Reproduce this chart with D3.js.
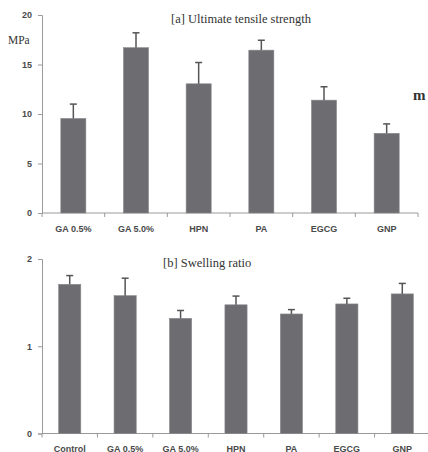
<!DOCTYPE html>
<html>
<head>
<meta charset="utf-8">
<script src="https://cdn.jsdelivr.net/npm/d3@7"></script>
<style>
  html, body { margin: 0; padding: 0; background: #fff; }
  svg { display: block; }
</style>
</head>
<body>
<svg id="chart" width="428" height="452"></svg>
<script>
// Panel (a): ultimate tensile strength, MPa
const tensileCategories = ["GA 0.5%", "GA 5.0%", "HPN", "PA", "EGCG", "GNP"];
const tensileMeans = [9.55, 16.7, 13.05, 16.45, 11.4, 8.05];
const tensileErrors = [1.45, 1.5, 2.15, 1.0, 1.35, 0.95];
const tensileTicks = [0, 5, 10, 15, 20];

// Panel (b): swelling ratio
const swellCategories = ["Control", "GA 0.5%", "GA 5.0%", "HPN", "PA", "EGCG", "GNP"];
const swellMeans = [1.71, 1.58, 1.32, 1.475, 1.37, 1.485, 1.6];
const swellErrors = [0.1, 0.2, 0.09, 0.1, 0.05, 0.065, 0.12];
const swellTicks = [0, 1, 2];

const svg = d3.select("#chart");
const barColor = "#6d6d71";
const axisColor = "#9a9a9a";
const labelColor = "#4a4a4a";
const serif = "'Liberation Serif', 'DejaVu Serif', serif";
const sans = "'Liberation Sans', 'DejaVu Sans', sans-serif";

function panel(cfg) {
  const g = svg.append("g");
  const x = d3.scaleBand().domain(cfg.categories).range([cfg.left, cfg.right]).paddingInner(cfg.pad).paddingOuter(cfg.pad / 2);
  const y = d3.scaleLinear().domain(cfg.domain).range([cfg.bottom, cfg.top]);
  const step = x.step();

  // y axis
  const yAxis = g.append("g").attr("transform", `translate(${cfg.left},0)`)
    .call(d3.axisLeft(y).tickValues(cfg.ticks).tickSize(4).tickPadding(6).tickFormat(d3.format("d")));
  yAxis.select(".domain").attr("stroke", axisColor);
  yAxis.selectAll(".tick line").attr("stroke", axisColor);
  yAxis.selectAll(".tick text").attr("fill", labelColor).attr("font-family", sans).attr("font-size", 9).attr("font-weight", "bold");

  // x axis line with boundary ticks pointing down
  g.append("line").attr("x1", cfg.left).attr("x2", cfg.right)
    .attr("y1", cfg.bottom).attr("y2", cfg.bottom).attr("stroke", axisColor);
  const bounds = d3.range(cfg.categories.length + 1).map(i => cfg.left + i * step);
  g.selectAll("line.xt").data(bounds).join("line").attr("class", "xt")
    .attr("x1", d => d).attr("x2", d => d)
    .attr("y1", cfg.bottom).attr("y2", cfg.bottom + 4).attr("stroke", axisColor);
  g.selectAll("text.xl").data(cfg.categories).join("text").attr("class", "xl")
    .attr("x", d => x(d) + x.bandwidth() / 2).attr("y", cfg.bottom + cfg.labelDy)
    .attr("text-anchor", "middle").attr("fill", labelColor)
    .attr("font-family", sans).attr("font-size", 9).attr("font-weight", "bold")
    .text(d => d);

  const rows = cfg.categories.map((c, i) => ({ c, v: cfg.values[i], e: cfg.errors[i] }));

  // bars
  g.selectAll("rect.bar").data(rows).join("rect").attr("class", "bar")
    .attr("x", d => x(d.c)).attr("width", x.bandwidth())
    .attr("y", d => y(d.v)).attr("height", d => y(0) - y(d.v))
    .attr("fill", barColor).attr("stroke", "#8a8a8e").attr("stroke-width", 0.6);

  // upper error bars
  g.selectAll("line.err").data(rows).join("line").attr("class", "err")
    .attr("x1", d => x(d.c) + x.bandwidth() / 2).attr("x2", d => x(d.c) + x.bandwidth() / 2)
    .attr("y1", d => y(d.v)).attr("y2", d => y(d.v + d.e))
    .attr("stroke", "#555558").attr("stroke-width", 1.5);
  g.selectAll("line.cap").data(rows).join("line").attr("class", "cap")
    .attr("x1", d => x(d.c) + x.bandwidth() / 2 - 3.5).attr("x2", d => x(d.c) + x.bandwidth() / 2 + 3.5)
    .attr("y1", d => y(d.v + d.e)).attr("y2", d => y(d.v + d.e))
    .attr("stroke", "#555558").attr("stroke-width", 1.5);

  // title
  g.append("text").attr("x", cfg.titleX).attr("y", cfg.titleY)
    .attr("font-family", serif).attr("font-size", 12.5).attr("fill", "#333")
    .text(cfg.title);
  return { g, x, y };
}

const a = panel({
  categories: tensileCategories, values: tensileMeans, errors: tensileErrors,
  ticks: tensileTicks, domain: [0, 20],
  left: 42, right: 418, top: 15, bottom: 213, pad: 0.6, labelDy: 19,
  title: "[a] Ultimate tensile strength", titleX: 171, titleY: 23
});
a.g.append("text").attr("x", 8).attr("y", 44)
  .attr("font-family", serif).attr("font-size", 11.5).attr("fill", "#333").text("MPa");
a.g.append("text").attr("x", 413).attr("y", 100)
  .attr("font-family", serif).attr("font-size", 15).attr("font-weight", "bold").attr("fill", "#333").text("m");

panel({
  categories: swellCategories, values: swellMeans, errors: swellErrors,
  ticks: swellTicks, domain: [0, 2],
  left: 42, right: 430, top: 259, bottom: 433.5, pad: 0.6, labelDy: 18,
  title: "[b] Swelling ratio", titleX: 163, titleY: 267
});
</script>
</body>
</html>
